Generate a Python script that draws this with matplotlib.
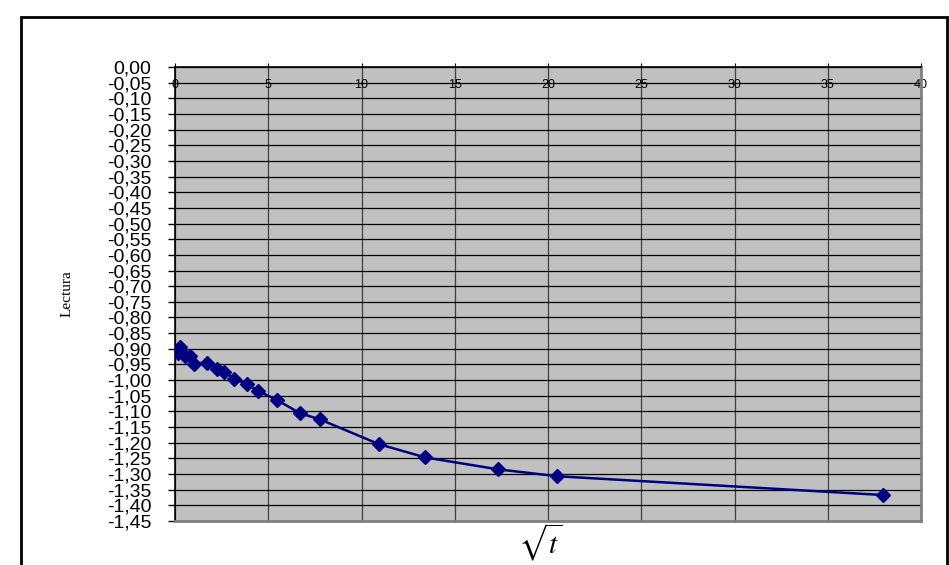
import numpy as np
import matplotlib.pyplot as plt
import matplotlib.patches as patches
from matplotlib.ticker import FuncFormatter, MultipleLocator

# sqrt(t) values and readings
raiz_t = [0.18, 0.27, 0.54, 0.80, 1.00, 1.73, 2.24, 2.65, 3.16, 3.87, 4.47,
          5.48, 6.71, 7.75, 10.95, 13.42, 17.32, 20.49, 37.95]
lectura = [-0.915, -0.894, -0.923, -0.923, -0.947, -0.944, -0.966, -0.975, -0.995,
           -1.014, -1.035, -1.064, -1.106, -1.125, -1.205, -1.247, -1.285, -1.307, -1.367]

plt.rcParams['font.family'] = ['Liberation Sans', 'DejaVu Sans']
plt.rcParams['mathtext.fontset'] = 'stix'

fig = plt.figure(figsize=(9.49, 5.65), dpi=100)
ax = fig.add_axes([175 / 949, 1 - 521 / 565, 746 / 949, 454 / 565])

ax.set_facecolor('#C0C0C0')
ax.set_xlim(0, 40)
ax.set_ylim(-1.45, 0)
ax.xaxis.set_major_locator(MultipleLocator(5))
ax.yaxis.set_major_locator(MultipleLocator(0.05))

ax.grid(True, which='major', axis='y', color='black', linewidth=0.9)
ax.grid(True, which='major', axis='x', color='#404040', linewidth=0.9)
ax.set_axisbelow(True)

ax.plot(raiz_t, lectura, color='#000080', linewidth=1.8, marker='D',
        markersize=7.5, markerfacecolor='#000080', markeredgecolor='#000080',
        zorder=3)

ax.yaxis.set_major_formatter(FuncFormatter(lambda v, p: ('%.2f' % v).replace('.', ',').replace('-0,00', '0,00')))
ax.tick_params(axis='y', labelsize=14, length=5, width=1, color='black', pad=12)

ax.xaxis.set_ticks_position('top')
ax.tick_params(axis='x', top=True, labeltop=True, bottom=False, labelbottom=False,
               labelsize=9, length=3, direction='out', pad=-20)

for s in ['top', 'left']:
    ax.spines[s].set_color('black')
    ax.spines[s].set_linewidth(1.2)
for s in ['bottom', 'right']:
    ax.spines[s].set_color('#808080')
    ax.spines[s].set_linewidth(2)

ax.set_ylabel('Lectura', family=['Liberation Serif', 'DejaVu Serif'], fontsize=11, labelpad=24)
fig.text(540 / 949, 2 / 565, r'$\sqrt{t}$', fontsize=21, ha='center', va='bottom')

border = patches.Rectangle((21 / 949, -0.1), 926 / 949, 1.1 - 17 / 565,
                           transform=fig.transFigure, fill=False,
                           edgecolor='black', linewidth=2)
fig.patches.append(border)

fig.savefig('out.png', dpi=100)
